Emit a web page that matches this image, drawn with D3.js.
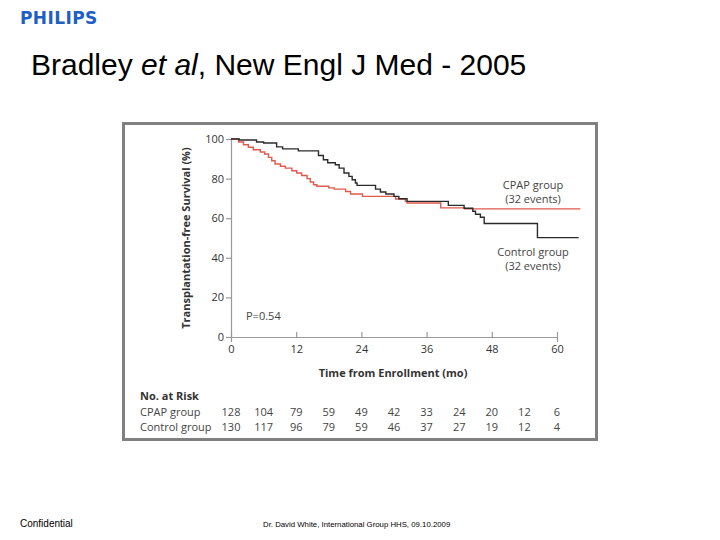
<!DOCTYPE html>
<html><head><meta charset="utf-8">
<script src="https://cdn.jsdelivr.net/npm/d3@7"></script>
<style>body{margin:0;background:#fff}svg{display:block}</style>
</head><body>
<svg id="c" width="720" height="540"></svg>
<script>
// ---- data ----
const xTicks = [0, 12, 24, 36, 48, 60];
const yTicks = [0, 20, 40, 60, 80, 100];
const riskTimes = [0, 6, 12, 18, 24, 30, 36, 42, 48, 54, 60];
const cpapRisk = [128, 104, 79, 59, 49, 42, 33, 24, 20, 12, 6];
const controlRisk = [130, 117, 96, 79, 59, 46, 37, 27, 19, 12, 4];
const cpapTime = [0,1.4,2.3,3.2,4.1,5.4,6.2,6.9,7.5,8.1,9.1,10,11.2,12.1,13,14,14.6,15.2,15.8,18,19,21.1,22,24.2,30.3,32.1,32.4,38.6,43,64.3];
const cpapSurv = [100,98.5,97.1,95.8,94.6,93.4,92.4,90.7,89,87.4,86.2,85.3,84,82.8,81.6,80,78.3,76.9,76.1,75.3,74.7,73.5,72.2,71,69.7,68.5,67.7,65.2,64.7,64.7];
const ctrlTime = [0,1.5,4.7,6,8.4,9.5,12.4,16.1,17,17.8,19.2,19.9,20.8,21.7,22.3,22.9,23.2,26.6,27.5,28.5,30,30.9,32.4,40,42.9,44.5,45,45.9,46.6,56.4,64];
const ctrlSurv = [100,99.5,98.5,98,96,95,94,91.7,89.5,88,87,85.3,82.8,81.1,79.4,77.8,76.6,74.7,73.2,72.2,71,69.8,68.5,66.5,65,63.5,62,60.5,57.3,50.2,50.2];

const svg = d3.select("#c");
const F = "'Open Sans', sans-serif";
const FS = 11;

// header
svg.append("text").attr("x", 20).attr("y", 24).text("PHILIPS")
  .attr("font-family", "'DejaVu Sans', sans-serif").attr("font-weight", "bold")
  .attr("font-size", 17).attr("fill", "#1f5fc4").attr("letter-spacing", 0.4);
const title = svg.append("text").attr("x", 31).attr("y", 75)
  .attr("font-family", "'Liberation Sans', Arial, sans-serif").attr("font-size", 30).attr("fill", "#000");
title.append("tspan").text("Bradley ");
title.append("tspan").attr("font-style", "italic").text("et al");
title.append("tspan").text(", New Engl J Med - 2005");

// footer
svg.append("text").attr("x", 20).attr("y", 527).text("Confidential")
  .attr("font-family", "'Liberation Sans', Arial, sans-serif").attr("font-size", 10).attr("fill", "#000");
svg.append("text").attr("x", 263).attr("y", 527).text("Dr. David White, International Group HHS, 09.10.2009")
  .attr("font-family", "'Liberation Sans Narrow', 'Liberation Sans', Arial, sans-serif").attr("font-size", 7.8).attr("fill", "#000");

// chart frame
svg.append("rect").attr("x", 123.5).attr("y", 123.5).attr("width", 473).attr("height", 316)
  .attr("fill", "#fff").attr("stroke", "#808080").attr("stroke-width", 3);

const x = d3.scaleLinear().domain([0, 60]).range([231, 557]);
const y = d3.scaleLinear().domain([0, 100]).range([337, 139]);

const axisColor = "#999";
const gy = svg.append("g").attr("transform", `translate(${x(0)},0)`)
  .call(d3.axisLeft(y).tickValues(yTicks).tickSize(5).tickPadding(2));
const gx = svg.append("g").attr("transform", `translate(0,${y(0)})`)
  .call(d3.axisBottom(x).tickValues(xTicks).tickSize(5).tickPadding(3));
[gx, gy].forEach(g => {
  g.select(".domain").attr("stroke", axisColor).attr("stroke-width", 1.2);
  g.selectAll(".tick line").attr("stroke", axisColor).attr("stroke-width", 1.2);
  g.selectAll(".tick text").attr("font-family", F).attr("font-size", FS).attr("fill", "#333");
});
gx.selectAll(".tick line").attr("y2", -5);
gy.selectAll(".tick line").attr("x2", -5);

// curves
const line = d3.line().x(d => x(d[0])).y(d => y(d[1])).curve(d3.curveStepAfter);
const cpap = cpapTime.map((t, i) => [t, cpapSurv[i]]);
const ctrl = ctrlTime.map((t, i) => [t, ctrlSurv[i]]);
svg.append("path").attr("d", line(cpap)).attr("fill", "none").attr("stroke", "#de5a4e").attr("stroke-width", 1.4);
svg.append("path").attr("d", line(ctrl)).attr("fill", "none").attr("stroke", "#2b2b2b").attr("stroke-width", 1.4);

// axis titles
svg.append("text").attr("transform", `translate(190,${(y(0)+y(100))/2}) rotate(-90)`)
  .attr("text-anchor", "middle").attr("font-family", F).attr("font-weight", "bold")
  .attr("font-size", FS).attr("fill", "#333").text("Transplantation-free Survival (%)");
svg.append("text").attr("x", 393).attr("y", 377).attr("text-anchor", "middle")
  .attr("font-family", F).attr("font-weight", "bold").attr("font-size", FS).attr("fill", "#333")
  .text("Time from Enrollment (mo)");

// annotations
const ann = (tx, ty, s, anchor) => svg.append("text").attr("x", tx).attr("y", ty)
  .attr("text-anchor", anchor || "middle").attr("font-family", F).attr("font-size", FS)
  .attr("fill", "#444").text(s);
ann(533, 189, "CPAP group");
ann(533, 203, "(32 events)");
ann(533, 256, "Control group");
ann(533, 270, "(32 events)");
ann(246, 320, "P=0.54", "start");

// number at risk
svg.append("text").attr("x", 140).attr("y", 400).attr("font-family", F).attr("font-weight", "bold")
  .attr("font-size", FS).attr("fill", "#333").text("No. at Risk");
ann(140, 416, "CPAP group", "start");
ann(140, 431, "Control group", "start");
svg.selectAll(".rc").data(riskTimes).enter().append("text")
  .attr("x", d => x(d)).attr("y", 416).attr("text-anchor", "middle")
  .attr("font-family", F).attr("font-size", FS).attr("fill", "#444")
  .text((d, i) => cpapRisk[i]);
svg.selectAll(".rk").data(riskTimes).enter().append("text")
  .attr("x", d => x(d)).attr("y", 431).attr("text-anchor", "middle")
  .attr("font-family", F).attr("font-size", FS).attr("fill", "#444")
  .text((d, i) => controlRisk[i]);
</script>
</body></html>
